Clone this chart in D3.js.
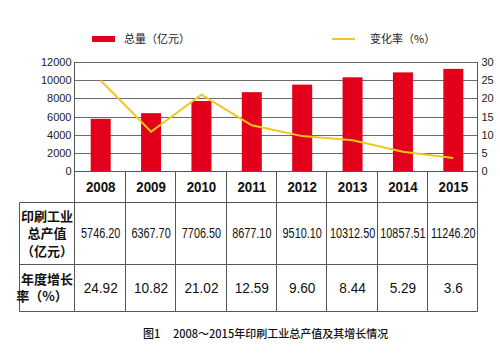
<!DOCTYPE html>
<html><head><meta charset="utf-8">
<script src="https://cdn.jsdelivr.net/npm/d3@7"></script>
<style>
body{margin:0;background:#fff;}
svg{display:block;}
</style></head>
<body>
<svg id="c" width="500" height="359"></svg>
<script>
const years = ["2008","2009","2010","2011","2012","2013","2014","2015"];
const totals = [5746.20, 6367.70, 7706.50, 8677.10, 9510.10, 10312.50, 10857.51, 11246.20];
const totalLabels = ["5746.20","6367.70","7706.50","8677.10","9510.10","10312.50","10857.51","11246.20"];
const rates = [24.92, 10.82, 21.02, 12.59, 9.60, 8.44, 5.29, 3.6];
const rateLabels = ["24.92","10.82","21.02","12.59","9.60","8.44","5.29","3.6"];
const leftTicks = [0,2000,4000,6000,8000,10000,12000];
const rightTicks = [0,5,10,15,20,25,30];
const legendBar = "总量（亿元）";
const legendLine = "变化率（%）";
const rowLabel1 = ["印刷工业","总产值","（亿元）"];
const rowLabel2 = ["年度增长","率（%）"];
const captionA = "图1";
const captionB = "2008～2015年印刷工业总产值及其增长情况";

const svg = d3.select("#c");
const L = 74.5, R = 477.5, T = 62, B = 171;
const red = "#e2001a", yellow = "#f2c81c", grid = "#6a6a6a";

const x = d3.scaleBand().domain(years).range([L, R]).paddingInner(0).paddingOuter(0);
const yL = d3.scaleLinear().domain([0,12000]).range([B, T]);
const yR = d3.scaleLinear().domain([0,30]).range([B, T]);

// gridlines
svg.append("g").selectAll("line").data(leftTicks).join("line")
  .attr("x1", L).attr("x2", R)
  .attr("y1", d => Math.round(yL(d)) + 0.5).attr("y2", d => Math.round(yL(d)) + 0.5)
  .attr("stroke", grid).attr("stroke-width", 1);

// bars
const bw = 20;
svg.append("g").selectAll("rect").data(totals).join("rect")
  .attr("x", (d,i) => x(years[i]) + x.bandwidth()/2 - bw/2 + 1)
  .attr("width", bw)
  .attr("y", d => yL(d))
  .attr("height", d => B - yL(d))
  .attr("fill", red);

// line
const line = d3.line()
  .x((d,i) => x(years[i]) + x.bandwidth()/2 + 1)
  .y(d => yR(d));
svg.append("path").datum(rates).attr("d", line)
  .attr("fill","none").attr("stroke", yellow).attr("stroke-width", 2);

// axes
const tickFont = "'Liberation Sans', Arial, sans-serif";
const axL = d3.axisLeft(yL).tickValues(leftTicks).tickSize(0).tickPadding(3).tickFormat(d3.format("d"));
const gL = svg.append("g").attr("transform", `translate(${L},0)`).call(axL);
gL.select(".domain").remove();
gL.selectAll("text").attr("font-family", tickFont).attr("font-size", 11).attr("fill","#222");

const axR = d3.axisRight(yR).tickValues(rightTicks).tickSize(0).tickPadding(4);
const gR = svg.append("g").attr("transform", `translate(${R},0)`).call(axR);
gR.select(".domain").remove();
gR.selectAll("text").attr("font-family", tickFont).attr("font-size", 11).attr("fill","#222");

// table
const tb = svg.append("g").attr("stroke", "#555").attr("stroke-width", 1);
const X0 = 19.5;
const rowY = [B + 0.5, 202.5, 264.5, 311.5];
tb.append("line").attr("x1", L).attr("x2", R).attr("y1", rowY[0]).attr("y2", rowY[0]);
[rowY[1], rowY[2], rowY[3]].forEach(y => tb.append("line").attr("x1", X0).attr("x2", R).attr("y1", y).attr("y2", y));
tb.append("line").attr("x1", X0).attr("x2", X0).attr("y1", rowY[1]).attr("y2", rowY[3]);
tb.append("line").attr("x1", L).attr("x2", L).attr("y1", T).attr("y2", rowY[3]);
tb.append("line").attr("x1", R).attr("x2", R).attr("y1", T).attr("y2", rowY[3]);
years.slice(1).forEach(yv => {
  const xx = Math.round(x(yv)) + 0.5;
  tb.append("line").attr("x1", xx).attr("x2", xx).attr("y1", rowY[0]).attr("y2", rowY[3]);
});

const cx = (i) => x(years[i]) + x.bandwidth()/2 + 1;
const numFont = "'Liberation Sans', Arial, sans-serif";
function rowText(data, y, size, weight, sx) {
  svg.append("g").selectAll("text").data(data).join("text")
    .attr("transform", (d,i) => `translate(${cx(i)},${y}) scale(${sx},1)`)
    .attr("dy","0.35em")
    .attr("text-anchor","middle").attr("font-family", numFont).attr("font-weight", weight)
    .attr("font-size", size).attr("fill","#111").text(d => d);
}
rowText(years, 187, 15.5, "bold", 0.86);
rowText(totalLabels, 233, 14.5, "normal", 0.75);
rowText(rateLabels, 288, 15.5, "normal", 0.88);

const cjk = "'Noto Sans CJK SC', sans-serif";
svg.append("g").selectAll("text").data(rowLabel1).join("text")
  .attr("x", 47).attr("y", (d,i) => 216 + i*17.5).attr("dy","0.35em")
  .attr("text-anchor","middle").attr("font-family", cjk).attr("font-weight","bold")
  .attr("font-size", 13).attr("fill","#111").text(d => d);
svg.append("g").selectAll("text").data(rowLabel2).join("text")
  .attr("x", (d,i) => i === 0 ? 47 : 42).attr("y", (d,i) => 279 + i*17).attr("dy","0.35em")
  .attr("text-anchor","middle").attr("font-family", cjk).attr("font-weight","bold")
  .attr("font-size", 13).attr("fill","#111").text(d => d);

// legend
svg.append("rect").attr("x", 92).attr("y", 36).attr("width", 23).attr("height", 6).attr("fill", red);
svg.append("text").attr("x", 124).attr("y", 39).attr("dy","0.35em")
  .attr("font-family", cjk).attr("font-size", 11).attr("fill","#222").text(legendBar);
svg.append("line").attr("x1", 332).attr("x2", 355).attr("y1", 39).attr("y2", 39)
  .attr("stroke", yellow).attr("stroke-width", 2);
svg.append("text").attr("x", 370).attr("y", 39).attr("dy","0.35em")
  .attr("font-family", cjk).attr("font-size", 11).attr("fill","#222").text(legendLine);

// caption
svg.append("text").attr("x", 143).attr("y", 334).attr("dy","0.35em")
  .attr("font-family", cjk).attr("font-size", 11).attr("font-weight", 500).attr("fill","#111").text(captionA);
svg.append("text").attr("x", 173).attr("y", 334).attr("dy","0.35em")
  .attr("font-family", cjk).attr("font-size", 11).attr("font-weight", 500).attr("fill","#111").text(captionB);
</script>
</body></html>
